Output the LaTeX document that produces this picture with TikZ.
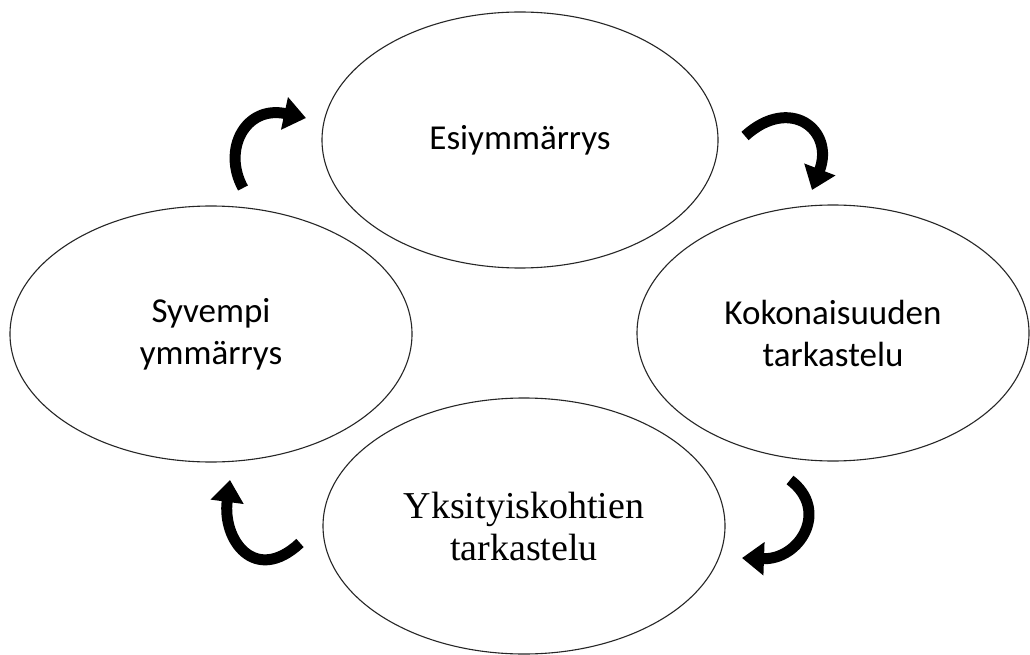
\documentclass[tikz,border=0pt]{standalone}
\usepackage{fontspec}
\setmainfont{Carlito}
\newfontfamily\serifface{Liberation Serif}
\usetikzlibrary{shapes.geometric,arrows.meta}
\begin{document}
\begin{tikzpicture}[x=1pt,y=-1pt,
  bubble/.style={draw=black!85, line width=1.1pt, ellipse, inner sep=0pt, align=center,
                 font=\fontsize{35}{42}\selectfont},
  cyclearrow/.style={line width=11pt, -{Triangle[width=32pt,length=22pt]}}]
\useasboundingbox[fill=white] (0,0) rectangle (1030,655);
\node[bubble, minimum width=396pt, minimum height=256pt] (esi) at (520,140) {Esiymmärrys};
\node[bubble, minimum width=402pt, minimum height=256pt] (syv) at (211,334) {Syvempi\\ymmärrys};
\node[bubble, minimum width=392pt, minimum height=256pt] (kok) at (833,333) {Kokonaisuuden\\tarkastelu};
\node[bubble, minimum width=402pt, minimum height=256pt,
      font=\serifface\fontsize{38}{42}\selectfont] (yks) at (524,526) {Yksityiskohtien\\tarkastelu};
% arrow end points
\coordinate (a1s) at (243,188); \coordinate (a1e) at (306,118);
\coordinate (a2s) at (745,136); \coordinate (a2e) at (812,190);
\coordinate (a3s) at (790,480); \coordinate (a3e) at (742,558);
\coordinate (a4s) at (300,543); \coordinate (a4e) at (230,480);
\draw[cyclearrow] (a1s) .. controls (222,150) and (245,105) .. (a1e);
\draw[cyclearrow] (a2s) .. controls (790,95) and (835,130) .. (a2e);
\draw[cyclearrow] (a3s) .. controls (830,510) and (800,560) .. (a3e);
\draw[cyclearrow] (a4s) .. controls (255,585) and (222,540) .. (a4e);
\end{tikzpicture}
\end{document}
